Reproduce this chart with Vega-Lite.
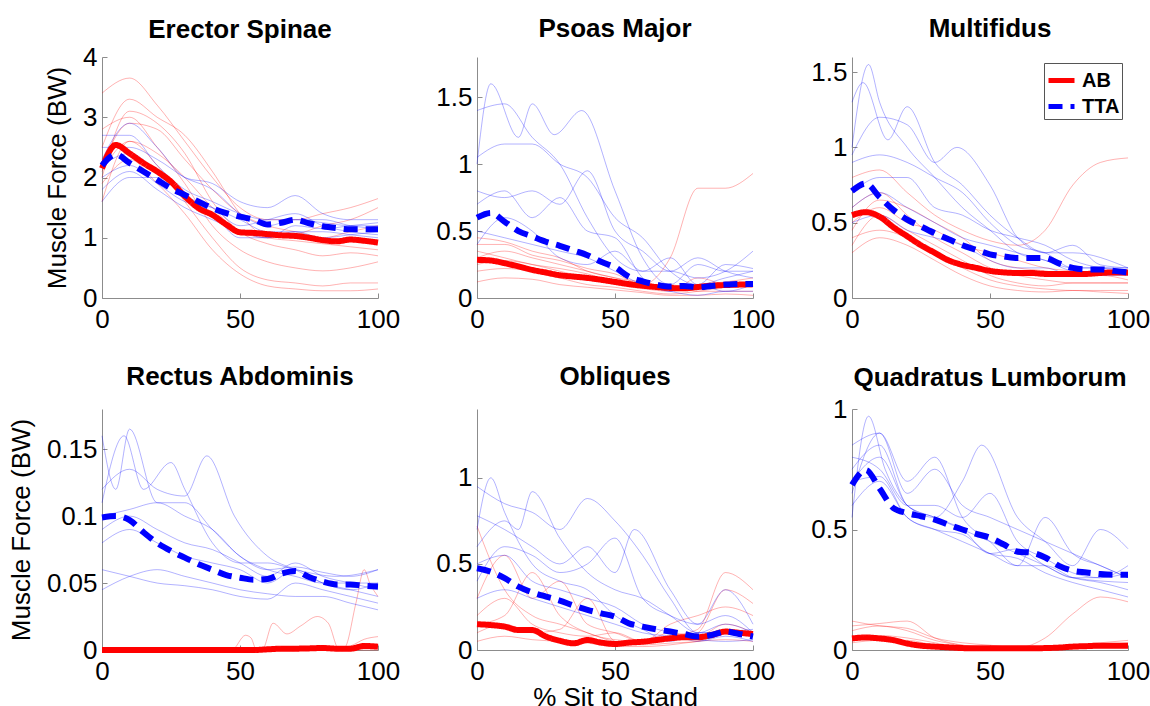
{
"$schema":"https://vega.github.io/schema/vega-lite/v6.json",
"padding":{"left":8,"top":16,"right":2,"bottom":2},
"datasets":{
"mean":[
{"m":"ES","g":"AB","x":0,"y":2.15},{"m":"ES","g":"AB","x":5,"y":2.54},{"m":"ES","g":"AB","x":10,"y":2.4},{"m":"ES","g":"AB","x":15,"y":2.24},{"m":"ES","g":"AB","x":20,"y":2.1},{"m":"ES","g":"AB","x":25,"y":1.93},{"m":"ES","g":"AB","x":30,"y":1.69},{"m":"ES","g":"AB","x":35,"y":1.49},{"m":"ES","g":"AB","x":40,"y":1.38},{"m":"ES","g":"AB","x":45,"y":1.22},{"m":"ES","g":"AB","x":50,"y":1.09},{"m":"ES","g":"AB","x":55,"y":1.08},{"m":"ES","g":"AB","x":60,"y":1.06},{"m":"ES","g":"AB","x":65,"y":1.04},{"m":"ES","g":"AB","x":70,"y":1.03},{"m":"ES","g":"AB","x":75,"y":1.0},{"m":"ES","g":"AB","x":80,"y":0.96},{"m":"ES","g":"AB","x":85,"y":0.94},{"m":"ES","g":"AB","x":90,"y":0.97},{"m":"ES","g":"AB","x":95,"y":0.95},{"m":"ES","g":"AB","x":100,"y":0.92},
{"m":"ES","g":"TTA","x":0,"y":2.2},{"m":"ES","g":"TTA","x":5,"y":2.38},{"m":"ES","g":"TTA","x":10,"y":2.24},{"m":"ES","g":"TTA","x":15,"y":2.1},{"m":"ES","g":"TTA","x":20,"y":1.96},{"m":"ES","g":"TTA","x":25,"y":1.82},{"m":"ES","g":"TTA","x":30,"y":1.71},{"m":"ES","g":"TTA","x":35,"y":1.6},{"m":"ES","g":"TTA","x":40,"y":1.49},{"m":"ES","g":"TTA","x":45,"y":1.41},{"m":"ES","g":"TTA","x":50,"y":1.35},{"m":"ES","g":"TTA","x":55,"y":1.3},{"m":"ES","g":"TTA","x":60,"y":1.22},{"m":"ES","g":"TTA","x":65,"y":1.25},{"m":"ES","g":"TTA","x":70,"y":1.3},{"m":"ES","g":"TTA","x":75,"y":1.24},{"m":"ES","g":"TTA","x":80,"y":1.19},{"m":"ES","g":"TTA","x":85,"y":1.16},{"m":"ES","g":"TTA","x":90,"y":1.14},{"m":"ES","g":"TTA","x":95,"y":1.14},{"m":"ES","g":"TTA","x":100,"y":1.14},
{"m":"PM","g":"AB","x":0,"y":0.285},{"m":"PM","g":"AB","x":5,"y":0.28},{"m":"PM","g":"AB","x":10,"y":0.26},{"m":"PM","g":"AB","x":15,"y":0.236},{"m":"PM","g":"AB","x":20,"y":0.21},{"m":"PM","g":"AB","x":25,"y":0.19},{"m":"PM","g":"AB","x":30,"y":0.17},{"m":"PM","g":"AB","x":35,"y":0.16},{"m":"PM","g":"AB","x":40,"y":0.15},{"m":"PM","g":"AB","x":45,"y":0.136},{"m":"PM","g":"AB","x":50,"y":0.12},{"m":"PM","g":"AB","x":55,"y":0.104},{"m":"PM","g":"AB","x":60,"y":0.092},{"m":"PM","g":"AB","x":65,"y":0.082},{"m":"PM","g":"AB","x":70,"y":0.075},{"m":"PM","g":"AB","x":75,"y":0.072},{"m":"PM","g":"AB","x":80,"y":0.082},{"m":"PM","g":"AB","x":85,"y":0.092},{"m":"PM","g":"AB","x":90,"y":0.097},{"m":"PM","g":"AB","x":95,"y":0.1},{"m":"PM","g":"AB","x":100,"y":0.104},
{"m":"PM","g":"TTA","x":0,"y":0.6},{"m":"PM","g":"TTA","x":5,"y":0.635},{"m":"PM","g":"TTA","x":10,"y":0.57},{"m":"PM","g":"TTA","x":15,"y":0.5},{"m":"PM","g":"TTA","x":20,"y":0.46},{"m":"PM","g":"TTA","x":25,"y":0.42},{"m":"PM","g":"TTA","x":30,"y":0.39},{"m":"PM","g":"TTA","x":35,"y":0.355},{"m":"PM","g":"TTA","x":40,"y":0.32},{"m":"PM","g":"TTA","x":45,"y":0.27},{"m":"PM","g":"TTA","x":50,"y":0.23},{"m":"PM","g":"TTA","x":55,"y":0.16},{"m":"PM","g":"TTA","x":60,"y":0.125},{"m":"PM","g":"TTA","x":65,"y":0.1},{"m":"PM","g":"TTA","x":70,"y":0.085},{"m":"PM","g":"TTA","x":75,"y":0.09},{"m":"PM","g":"TTA","x":80,"y":0.08},{"m":"PM","g":"TTA","x":85,"y":0.09},{"m":"PM","g":"TTA","x":90,"y":0.1},{"m":"PM","g":"TTA","x":95,"y":0.105},{"m":"PM","g":"TTA","x":100,"y":0.105},
{"m":"MF","g":"AB","x":0,"y":0.55},{"m":"MF","g":"AB","x":5,"y":0.57},{"m":"MF","g":"AB","x":10,"y":0.54},{"m":"MF","g":"AB","x":15,"y":0.47},{"m":"MF","g":"AB","x":20,"y":0.41},{"m":"MF","g":"AB","x":25,"y":0.35},{"m":"MF","g":"AB","x":30,"y":0.3},{"m":"MF","g":"AB","x":35,"y":0.25},{"m":"MF","g":"AB","x":40,"y":0.22},{"m":"MF","g":"AB","x":45,"y":0.2},{"m":"MF","g":"AB","x":50,"y":0.18},{"m":"MF","g":"AB","x":55,"y":0.17},{"m":"MF","g":"AB","x":60,"y":0.166},{"m":"MF","g":"AB","x":65,"y":0.166},{"m":"MF","g":"AB","x":70,"y":0.16},{"m":"MF","g":"AB","x":75,"y":0.16},{"m":"MF","g":"AB","x":80,"y":0.16},{"m":"MF","g":"AB","x":85,"y":0.16},{"m":"MF","g":"AB","x":90,"y":0.166},{"m":"MF","g":"AB","x":95,"y":0.17},{"m":"MF","g":"AB","x":100,"y":0.17},
{"m":"MF","g":"TTA","x":0,"y":0.71},{"m":"MF","g":"TTA","x":5,"y":0.76},{"m":"MF","g":"TTA","x":10,"y":0.67},{"m":"MF","g":"TTA","x":15,"y":0.585},{"m":"MF","g":"TTA","x":20,"y":0.52},{"m":"MF","g":"TTA","x":25,"y":0.475},{"m":"MF","g":"TTA","x":30,"y":0.43},{"m":"MF","g":"TTA","x":35,"y":0.39},{"m":"MF","g":"TTA","x":40,"y":0.35},{"m":"MF","g":"TTA","x":45,"y":0.32},{"m":"MF","g":"TTA","x":50,"y":0.29},{"m":"MF","g":"TTA","x":55,"y":0.276},{"m":"MF","g":"TTA","x":60,"y":0.265},{"m":"MF","g":"TTA","x":65,"y":0.265},{"m":"MF","g":"TTA","x":70,"y":0.265},{"m":"MF","g":"TTA","x":75,"y":0.23},{"m":"MF","g":"TTA","x":80,"y":0.2},{"m":"MF","g":"TTA","x":85,"y":0.19},{"m":"MF","g":"TTA","x":90,"y":0.19},{"m":"MF","g":"TTA","x":95,"y":0.18},{"m":"MF","g":"TTA","x":100,"y":0.17},
{"m":"RA","g":"AB","x":0,"y":0},{"m":"RA","g":"AB","x":5,"y":0},{"m":"RA","g":"AB","x":10,"y":0},{"m":"RA","g":"AB","x":15,"y":0},{"m":"RA","g":"AB","x":20,"y":0},{"m":"RA","g":"AB","x":25,"y":0},{"m":"RA","g":"AB","x":30,"y":0},{"m":"RA","g":"AB","x":35,"y":0},{"m":"RA","g":"AB","x":40,"y":0},{"m":"RA","g":"AB","x":45,"y":0},{"m":"RA","g":"AB","x":50,"y":0},{"m":"RA","g":"AB","x":55,"y":0},{"m":"RA","g":"AB","x":60,"y":0.0005},{"m":"RA","g":"AB","x":65,"y":0.001},{"m":"RA","g":"AB","x":70,"y":0.001},{"m":"RA","g":"AB","x":75,"y":0.0012},{"m":"RA","g":"AB","x":80,"y":0.0015},{"m":"RA","g":"AB","x":85,"y":0.001},{"m":"RA","g":"AB","x":90,"y":0.001},{"m":"RA","g":"AB","x":95,"y":0.003},{"m":"RA","g":"AB","x":100,"y":0.0025},
{"m":"RA","g":"TTA","x":0,"y":0.099},{"m":"RA","g":"TTA","x":5,"y":0.1},{"m":"RA","g":"TTA","x":10,"y":0.097},{"m":"RA","g":"TTA","x":15,"y":0.088},{"m":"RA","g":"TTA","x":20,"y":0.08},{"m":"RA","g":"TTA","x":25,"y":0.074},{"m":"RA","g":"TTA","x":30,"y":0.069},{"m":"RA","g":"TTA","x":35,"y":0.064},{"m":"RA","g":"TTA","x":40,"y":0.06},{"m":"RA","g":"TTA","x":45,"y":0.056},{"m":"RA","g":"TTA","x":50,"y":0.054},{"m":"RA","g":"TTA","x":55,"y":0.0525},{"m":"RA","g":"TTA","x":60,"y":0.053},{"m":"RA","g":"TTA","x":65,"y":0.057},{"m":"RA","g":"TTA","x":70,"y":0.059},{"m":"RA","g":"TTA","x":75,"y":0.0545},{"m":"RA","g":"TTA","x":80,"y":0.051},{"m":"RA","g":"TTA","x":85,"y":0.049},{"m":"RA","g":"TTA","x":90,"y":0.049},{"m":"RA","g":"TTA","x":95,"y":0.048},{"m":"RA","g":"TTA","x":100,"y":0.0475},
{"m":"OB","g":"AB","x":0,"y":0.15},{"m":"OB","g":"AB","x":5,"y":0.145},{"m":"OB","g":"AB","x":10,"y":0.136},{"m":"OB","g":"AB","x":15,"y":0.116},{"m":"OB","g":"AB","x":20,"y":0.116},{"m":"OB","g":"AB","x":25,"y":0.078},{"m":"OB","g":"AB","x":30,"y":0.054},{"m":"OB","g":"AB","x":35,"y":0.039},{"m":"OB","g":"AB","x":40,"y":0.058},{"m":"OB","g":"AB","x":45,"y":0.043},{"m":"OB","g":"AB","x":50,"y":0.035},{"m":"OB","g":"AB","x":55,"y":0.043},{"m":"OB","g":"AB","x":60,"y":0.048},{"m":"OB","g":"AB","x":65,"y":0.058},{"m":"OB","g":"AB","x":70,"y":0.068},{"m":"OB","g":"AB","x":75,"y":0.074},{"m":"OB","g":"AB","x":80,"y":0.074},{"m":"OB","g":"AB","x":85,"y":0.087},{"m":"OB","g":"AB","x":90,"y":0.107},{"m":"OB","g":"AB","x":95,"y":0.1},{"m":"OB","g":"AB","x":100,"y":0.093},
{"m":"OB","g":"TTA","x":0,"y":0.475},{"m":"OB","g":"TTA","x":5,"y":0.455},{"m":"OB","g":"TTA","x":10,"y":0.417},{"m":"OB","g":"TTA","x":15,"y":0.368},{"m":"OB","g":"TTA","x":20,"y":0.335},{"m":"OB","g":"TTA","x":25,"y":0.31},{"m":"OB","g":"TTA","x":30,"y":0.287},{"m":"OB","g":"TTA","x":35,"y":0.258},{"m":"OB","g":"TTA","x":40,"y":0.233},{"m":"OB","g":"TTA","x":45,"y":0.213},{"m":"OB","g":"TTA","x":50,"y":0.194},{"m":"OB","g":"TTA","x":55,"y":0.155},{"m":"OB","g":"TTA","x":60,"y":0.136},{"m":"OB","g":"TTA","x":65,"y":0.12},{"m":"OB","g":"TTA","x":70,"y":0.107},{"m":"OB","g":"TTA","x":75,"y":0.093},{"m":"OB","g":"TTA","x":80,"y":0.078},{"m":"OB","g":"TTA","x":85,"y":0.087},{"m":"OB","g":"TTA","x":90,"y":0.107},{"m":"OB","g":"TTA","x":95,"y":0.093},{"m":"OB","g":"TTA","x":100,"y":0.078},
{"m":"QL","g":"AB","x":0,"y":0.048},{"m":"QL","g":"AB","x":5,"y":0.052},{"m":"QL","g":"AB","x":10,"y":0.048},{"m":"QL","g":"AB","x":15,"y":0.041},{"m":"QL","g":"AB","x":20,"y":0.027},{"m":"QL","g":"AB","x":25,"y":0.018},{"m":"QL","g":"AB","x":30,"y":0.014},{"m":"QL","g":"AB","x":35,"y":0.011},{"m":"QL","g":"AB","x":40,"y":0.008},{"m":"QL","g":"AB","x":45,"y":0.007},{"m":"QL","g":"AB","x":50,"y":0.007},{"m":"QL","g":"AB","x":55,"y":0.007},{"m":"QL","g":"AB","x":60,"y":0.007},{"m":"QL","g":"AB","x":65,"y":0.007},{"m":"QL","g":"AB","x":70,"y":0.008},{"m":"QL","g":"AB","x":75,"y":0.01},{"m":"QL","g":"AB","x":80,"y":0.014},{"m":"QL","g":"AB","x":85,"y":0.016},{"m":"QL","g":"AB","x":90,"y":0.018},{"m":"QL","g":"AB","x":95,"y":0.018},{"m":"QL","g":"AB","x":100,"y":0.018},
{"m":"QL","g":"TTA","x":0,"y":0.685},{"m":"QL","g":"TTA","x":5,"y":0.747},{"m":"QL","g":"TTA","x":10,"y":0.67},{"m":"QL","g":"TTA","x":15,"y":0.589},{"m":"QL","g":"TTA","x":20,"y":0.568},{"m":"QL","g":"TTA","x":25,"y":0.555},{"m":"QL","g":"TTA","x":30,"y":0.541},{"m":"QL","g":"TTA","x":35,"y":0.52},{"m":"QL","g":"TTA","x":40,"y":0.5},{"m":"QL","g":"TTA","x":45,"y":0.482},{"m":"QL","g":"TTA","x":50,"y":0.466},{"m":"QL","g":"TTA","x":55,"y":0.438},{"m":"QL","g":"TTA","x":60,"y":0.408},{"m":"QL","g":"TTA","x":65,"y":0.404},{"m":"QL","g":"TTA","x":70,"y":0.384},{"m":"QL","g":"TTA","x":75,"y":0.349},{"m":"QL","g":"TTA","x":80,"y":0.329},{"m":"QL","g":"TTA","x":85,"y":0.322},{"m":"QL","g":"TTA","x":90,"y":0.315},{"m":"QL","g":"TTA","x":95,"y":0.312},{"m":"QL","g":"TTA","x":100,"y":0.312}
],
"subj":[
{"m":"ES","g":"AB","s":1,"x":0,"y":3.4},{"m":"ES","g":"AB","s":1,"x":10,"y":3.65},{"m":"ES","g":"AB","s":1,"x":20,"y":3.2},{"m":"ES","g":"AB","s":1,"x":30,"y":2.6},{"m":"ES","g":"AB","s":1,"x":40,"y":2.0},{"m":"ES","g":"AB","s":1,"x":50,"y":1.5},{"m":"ES","g":"AB","s":1,"x":60,"y":1.3},{"m":"ES","g":"AB","s":1,"x":70,"y":1.3},{"m":"ES","g":"AB","s":1,"x":80,"y":1.4},{"m":"ES","g":"AB","s":1,"x":90,"y":1.5},{"m":"ES","g":"AB","s":1,"x":100,"y":1.65},
{"m":"ES","g":"AB","s":2,"x":0,"y":2.0},{"m":"ES","g":"AB","s":2,"x":10,"y":3.1},{"m":"ES","g":"AB","s":2,"x":20,"y":2.9},{"m":"ES","g":"AB","s":2,"x":30,"y":2.4},{"m":"ES","g":"AB","s":2,"x":40,"y":1.6},{"m":"ES","g":"AB","s":2,"x":50,"y":1.1},{"m":"ES","g":"AB","s":2,"x":60,"y":0.9},{"m":"ES","g":"AB","s":2,"x":70,"y":0.8},{"m":"ES","g":"AB","s":2,"x":80,"y":0.7},{"m":"ES","g":"AB","s":2,"x":90,"y":0.75},{"m":"ES","g":"AB","s":2,"x":100,"y":0.7},
{"m":"ES","g":"AB","s":3,"x":0,"y":1.6},{"m":"ES","g":"AB","s":3,"x":10,"y":2.6},{"m":"ES","g":"AB","s":3,"x":20,"y":2.2},{"m":"ES","g":"AB","s":3,"x":30,"y":1.6},{"m":"ES","g":"AB","s":3,"x":40,"y":1.0},{"m":"ES","g":"AB","s":3,"x":50,"y":0.5},{"m":"ES","g":"AB","s":3,"x":60,"y":0.3},{"m":"ES","g":"AB","s":3,"x":70,"y":0.25},{"m":"ES","g":"AB","s":3,"x":80,"y":0.2},{"m":"ES","g":"AB","s":3,"x":90,"y":0.25},{"m":"ES","g":"AB","s":3,"x":100,"y":0.25},
{"m":"ES","g":"AB","s":4,"x":0,"y":2.2},{"m":"ES","g":"AB","s":4,"x":10,"y":2.9},{"m":"ES","g":"AB","s":4,"x":20,"y":2.8},{"m":"ES","g":"AB","s":4,"x":30,"y":2.3},{"m":"ES","g":"AB","s":4,"x":40,"y":1.8},{"m":"ES","g":"AB","s":4,"x":50,"y":1.4},{"m":"ES","g":"AB","s":4,"x":60,"y":1.2},{"m":"ES","g":"AB","s":4,"x":70,"y":1.1},{"m":"ES","g":"AB","s":4,"x":80,"y":1.0},{"m":"ES","g":"AB","s":4,"x":90,"y":1.1},{"m":"ES","g":"AB","s":4,"x":100,"y":1.2},
{"m":"ES","g":"AB","s":5,"x":0,"y":1.9},{"m":"ES","g":"AB","s":5,"x":10,"y":2.3},{"m":"ES","g":"AB","s":5,"x":20,"y":1.9},{"m":"ES","g":"AB","s":5,"x":30,"y":1.4},{"m":"ES","g":"AB","s":5,"x":40,"y":0.8},{"m":"ES","g":"AB","s":5,"x":50,"y":0.4},{"m":"ES","g":"AB","s":5,"x":60,"y":0.2},{"m":"ES","g":"AB","s":5,"x":70,"y":0.15},{"m":"ES","g":"AB","s":5,"x":80,"y":0.12},{"m":"ES","g":"AB","s":5,"x":90,"y":0.12},{"m":"ES","g":"AB","s":5,"x":100,"y":0.15},
{"m":"ES","g":"AB","s":6,"x":0,"y":2.5},{"m":"ES","g":"AB","s":6,"x":10,"y":3.3},{"m":"ES","g":"AB","s":6,"x":20,"y":3.0},{"m":"ES","g":"AB","s":6,"x":30,"y":2.7},{"m":"ES","g":"AB","s":6,"x":40,"y":2.1},{"m":"ES","g":"AB","s":6,"x":50,"y":1.4},{"m":"ES","g":"AB","s":6,"x":60,"y":1.0},{"m":"ES","g":"AB","s":6,"x":70,"y":0.95},{"m":"ES","g":"AB","s":6,"x":80,"y":0.9},{"m":"ES","g":"AB","s":6,"x":90,"y":0.85},{"m":"ES","g":"AB","s":6,"x":100,"y":0.8},
{"m":"ES","g":"AB","s":7,"x":0,"y":2.1},{"m":"ES","g":"AB","s":7,"x":10,"y":2.6},{"m":"ES","g":"AB","s":7,"x":20,"y":2.4},{"m":"ES","g":"AB","s":7,"x":30,"y":2.0},{"m":"ES","g":"AB","s":7,"x":40,"y":1.5},{"m":"ES","g":"AB","s":7,"x":50,"y":1.1},{"m":"ES","g":"AB","s":7,"x":60,"y":1.0},{"m":"ES","g":"AB","s":7,"x":70,"y":1.05},{"m":"ES","g":"AB","s":7,"x":80,"y":1.2},{"m":"ES","g":"AB","s":7,"x":90,"y":1.3},{"m":"ES","g":"AB","s":7,"x":100,"y":1.5},
{"m":"ES","g":"AB","s":8,"x":0,"y":2.8},{"m":"ES","g":"AB","s":8,"x":10,"y":3.0},{"m":"ES","g":"AB","s":8,"x":20,"y":2.5},{"m":"ES","g":"AB","s":8,"x":30,"y":1.9},{"m":"ES","g":"AB","s":8,"x":40,"y":1.2},{"m":"ES","g":"AB","s":8,"x":50,"y":0.8},{"m":"ES","g":"AB","s":8,"x":60,"y":0.6},{"m":"ES","g":"AB","s":8,"x":70,"y":0.5},{"m":"ES","g":"AB","s":8,"x":80,"y":0.45},{"m":"ES","g":"AB","s":8,"x":90,"y":0.5},{"m":"ES","g":"AB","s":8,"x":100,"y":0.6},
{"m":"ES","g":"TTA","s":1,"x":0,"y":2.7},{"m":"ES","g":"TTA","s":1,"x":10,"y":2.7},{"m":"ES","g":"TTA","s":1,"x":20,"y":2.2},{"m":"ES","g":"TTA","s":1,"x":30,"y":1.8},{"m":"ES","g":"TTA","s":1,"x":40,"y":1.6},{"m":"ES","g":"TTA","s":1,"x":50,"y":1.4},{"m":"ES","g":"TTA","s":1,"x":60,"y":1.3},{"m":"ES","g":"TTA","s":1,"x":70,"y":1.3},{"m":"ES","g":"TTA","s":1,"x":80,"y":1.25},{"m":"ES","g":"TTA","s":1,"x":90,"y":1.2},{"m":"ES","g":"TTA","s":1,"x":100,"y":1.2},
{"m":"ES","g":"TTA","s":2,"x":0,"y":2.0},{"m":"ES","g":"TTA","s":2,"x":10,"y":2.2},{"m":"ES","g":"TTA","s":2,"x":20,"y":1.9},{"m":"ES","g":"TTA","s":2,"x":30,"y":1.6},{"m":"ES","g":"TTA","s":2,"x":40,"y":1.5},{"m":"ES","g":"TTA","s":2,"x":50,"y":1.3},{"m":"ES","g":"TTA","s":2,"x":60,"y":1.1},{"m":"ES","g":"TTA","s":2,"x":70,"y":1.1},{"m":"ES","g":"TTA","s":2,"x":80,"y":1.0},{"m":"ES","g":"TTA","s":2,"x":90,"y":1.05},{"m":"ES","g":"TTA","s":2,"x":100,"y":1.1},
{"m":"ES","g":"TTA","s":3,"x":0,"y":2.3},{"m":"ES","g":"TTA","s":3,"x":10,"y":2.9},{"m":"ES","g":"TTA","s":3,"x":20,"y":2.5},{"m":"ES","g":"TTA","s":3,"x":30,"y":2.0},{"m":"ES","g":"TTA","s":3,"x":40,"y":1.9},{"m":"ES","g":"TTA","s":3,"x":50,"y":1.6},{"m":"ES","g":"TTA","s":3,"x":60,"y":1.5},{"m":"ES","g":"TTA","s":3,"x":70,"y":1.7},{"m":"ES","g":"TTA","s":3,"x":80,"y":1.4},{"m":"ES","g":"TTA","s":3,"x":90,"y":1.3},{"m":"ES","g":"TTA","s":3,"x":100,"y":1.3},
{"m":"ES","g":"TTA","s":4,"x":0,"y":1.8},{"m":"ES","g":"TTA","s":4,"x":10,"y":2.1},{"m":"ES","g":"TTA","s":4,"x":20,"y":1.8},{"m":"ES","g":"TTA","s":4,"x":30,"y":1.5},{"m":"ES","g":"TTA","s":4,"x":40,"y":1.3},{"m":"ES","g":"TTA","s":4,"x":50,"y":1.1},{"m":"ES","g":"TTA","s":4,"x":60,"y":1.0},{"m":"ES","g":"TTA","s":4,"x":70,"y":1.1},{"m":"ES","g":"TTA","s":4,"x":80,"y":1.1},{"m":"ES","g":"TTA","s":4,"x":90,"y":1.05},{"m":"ES","g":"TTA","s":4,"x":100,"y":1.0},
{"m":"ES","g":"TTA","s":5,"x":0,"y":2.5},{"m":"ES","g":"TTA","s":5,"x":10,"y":2.5},{"m":"ES","g":"TTA","s":5,"x":20,"y":2.3},{"m":"ES","g":"TTA","s":5,"x":30,"y":2.0},{"m":"ES","g":"TTA","s":5,"x":40,"y":1.8},{"m":"ES","g":"TTA","s":5,"x":50,"y":1.4},{"m":"ES","g":"TTA","s":5,"x":60,"y":1.2},{"m":"ES","g":"TTA","s":5,"x":70,"y":1.3},{"m":"ES","g":"TTA","s":5,"x":80,"y":1.3},{"m":"ES","g":"TTA","s":5,"x":90,"y":1.2},{"m":"ES","g":"TTA","s":5,"x":100,"y":1.15},
{"m":"ES","g":"TTA","s":6,"x":0,"y":2.2},{"m":"ES","g":"TTA","s":6,"x":10,"y":2.4},{"m":"ES","g":"TTA","s":6,"x":20,"y":2.1},{"m":"ES","g":"TTA","s":6,"x":30,"y":1.7},{"m":"ES","g":"TTA","s":6,"x":40,"y":1.5},{"m":"ES","g":"TTA","s":6,"x":50,"y":1.2},{"m":"ES","g":"TTA","s":6,"x":60,"y":1.3},{"m":"ES","g":"TTA","s":6,"x":70,"y":1.4},{"m":"ES","g":"TTA","s":6,"x":80,"y":1.2},{"m":"ES","g":"TTA","s":6,"x":90,"y":1.1},{"m":"ES","g":"TTA","s":6,"x":100,"y":1.05},
{"m":"ES","g":"TTA","s":7,"x":0,"y":1.6},{"m":"ES","g":"TTA","s":7,"x":10,"y":2.0},{"m":"ES","g":"TTA","s":7,"x":20,"y":2.0},{"m":"ES","g":"TTA","s":7,"x":30,"y":1.7},{"m":"ES","g":"TTA","s":7,"x":40,"y":1.4},{"m":"ES","g":"TTA","s":7,"x":50,"y":1.0},{"m":"ES","g":"TTA","s":7,"x":60,"y":1.0},{"m":"ES","g":"TTA","s":7,"x":70,"y":1.2},{"m":"ES","g":"TTA","s":7,"x":80,"y":1.15},{"m":"ES","g":"TTA","s":7,"x":90,"y":1.2},{"m":"ES","g":"TTA","s":7,"x":100,"y":1.25},
{"m":"PM","g":"AB","s":1,"x":0,"y":0.45},{"m":"PM","g":"AB","s":1,"x":10,"y":0.42},{"m":"PM","g":"AB","s":1,"x":20,"y":0.35},{"m":"PM","g":"AB","s":1,"x":30,"y":0.3},{"m":"PM","g":"AB","s":1,"x":40,"y":0.2},{"m":"PM","g":"AB","s":1,"x":50,"y":0.15},{"m":"PM","g":"AB","s":1,"x":60,"y":0.1},{"m":"PM","g":"AB","s":1,"x":70,"y":0.3},{"m":"PM","g":"AB","s":1,"x":80,"y":0.82},{"m":"PM","g":"AB","s":1,"x":90,"y":0.82},{"m":"PM","g":"AB","s":1,"x":100,"y":0.93},
{"m":"PM","g":"AB","s":2,"x":0,"y":0.3},{"m":"PM","g":"AB","s":2,"x":10,"y":0.35},{"m":"PM","g":"AB","s":2,"x":20,"y":0.3},{"m":"PM","g":"AB","s":2,"x":30,"y":0.25},{"m":"PM","g":"AB","s":2,"x":40,"y":0.2},{"m":"PM","g":"AB","s":2,"x":50,"y":0.15},{"m":"PM","g":"AB","s":2,"x":60,"y":0.12},{"m":"PM","g":"AB","s":2,"x":70,"y":0.08},{"m":"PM","g":"AB","s":2,"x":80,"y":0.1},{"m":"PM","g":"AB","s":2,"x":90,"y":0.12},{"m":"PM","g":"AB","s":2,"x":100,"y":0.15},
{"m":"PM","g":"AB","s":3,"x":0,"y":0.2},{"m":"PM","g":"AB","s":3,"x":10,"y":0.22},{"m":"PM","g":"AB","s":3,"x":20,"y":0.2},{"m":"PM","g":"AB","s":3,"x":30,"y":0.15},{"m":"PM","g":"AB","s":3,"x":40,"y":0.1},{"m":"PM","g":"AB","s":3,"x":50,"y":0.08},{"m":"PM","g":"AB","s":3,"x":60,"y":0.05},{"m":"PM","g":"AB","s":3,"x":70,"y":0.03},{"m":"PM","g":"AB","s":3,"x":80,"y":0.05},{"m":"PM","g":"AB","s":3,"x":90,"y":0.08},{"m":"PM","g":"AB","s":3,"x":100,"y":0.1},
{"m":"PM","g":"AB","s":4,"x":0,"y":0.4},{"m":"PM","g":"AB","s":4,"x":10,"y":0.4},{"m":"PM","g":"AB","s":4,"x":20,"y":0.32},{"m":"PM","g":"AB","s":4,"x":30,"y":0.28},{"m":"PM","g":"AB","s":4,"x":40,"y":0.22},{"m":"PM","g":"AB","s":4,"x":50,"y":0.18},{"m":"PM","g":"AB","s":4,"x":60,"y":0.1},{"m":"PM","g":"AB","s":4,"x":70,"y":0.1},{"m":"PM","g":"AB","s":4,"x":80,"y":0.05},{"m":"PM","g":"AB","s":4,"x":90,"y":0.05},{"m":"PM","g":"AB","s":4,"x":100,"y":0.05},
{"m":"PM","g":"AB","s":5,"x":0,"y":0.12},{"m":"PM","g":"AB","s":5,"x":10,"y":0.15},{"m":"PM","g":"AB","s":5,"x":20,"y":0.14},{"m":"PM","g":"AB","s":5,"x":30,"y":0.1},{"m":"PM","g":"AB","s":5,"x":40,"y":0.08},{"m":"PM","g":"AB","s":5,"x":50,"y":0.06},{"m":"PM","g":"AB","s":5,"x":60,"y":0.04},{"m":"PM","g":"AB","s":5,"x":70,"y":0.02},{"m":"PM","g":"AB","s":5,"x":80,"y":0.02},{"m":"PM","g":"AB","s":5,"x":90,"y":0.03},{"m":"PM","g":"AB","s":5,"x":100,"y":0.02},
{"m":"PM","g":"AB","s":6,"x":0,"y":0.35},{"m":"PM","g":"AB","s":6,"x":10,"y":0.3},{"m":"PM","g":"AB","s":6,"x":20,"y":0.25},{"m":"PM","g":"AB","s":6,"x":30,"y":0.22},{"m":"PM","g":"AB","s":6,"x":40,"y":0.18},{"m":"PM","g":"AB","s":6,"x":50,"y":0.12},{"m":"PM","g":"AB","s":6,"x":60,"y":0.08},{"m":"PM","g":"AB","s":6,"x":70,"y":0.06},{"m":"PM","g":"AB","s":6,"x":80,"y":0.08},{"m":"PM","g":"AB","s":6,"x":90,"y":0.1},{"m":"PM","g":"AB","s":6,"x":100,"y":0.12},
{"m":"PM","g":"AB","s":7,"x":0,"y":0.25},{"m":"PM","g":"AB","s":7,"x":10,"y":0.28},{"m":"PM","g":"AB","s":7,"x":20,"y":0.25},{"m":"PM","g":"AB","s":7,"x":30,"y":0.2},{"m":"PM","g":"AB","s":7,"x":40,"y":0.15},{"m":"PM","g":"AB","s":7,"x":50,"y":0.1},{"m":"PM","g":"AB","s":7,"x":60,"y":0.07},{"m":"PM","g":"AB","s":7,"x":70,"y":0.05},{"m":"PM","g":"AB","s":7,"x":80,"y":0.15},{"m":"PM","g":"AB","s":7,"x":90,"y":0.1},{"m":"PM","g":"AB","s":7,"x":100,"y":0.08},
{"m":"PM","g":"TTA","s":1,"x":0,"y":1.4},{"m":"PM","g":"TTA","s":1,"x":10,"y":1.45},{"m":"PM","g":"TTA","s":1,"x":20,"y":1.2},{"m":"PM","g":"TTA","s":1,"x":30,"y":1.0},{"m":"PM","g":"TTA","s":1,"x":40,"y":0.6},{"m":"PM","g":"TTA","s":1,"x":50,"y":0.3},{"m":"PM","g":"TTA","s":1,"x":60,"y":0.2},{"m":"PM","g":"TTA","s":1,"x":70,"y":0.2},{"m":"PM","g":"TTA","s":1,"x":80,"y":0.15},{"m":"PM","g":"TTA","s":1,"x":90,"y":0.2},{"m":"PM","g":"TTA","s":1,"x":100,"y":0.35},
{"m":"PM","g":"TTA","s":2,"x":0,"y":1.0},{"m":"PM","g":"TTA","s":2,"x":5,"y":1.6},{"m":"PM","g":"TTA","s":2,"x":15,"y":1.2},{"m":"PM","g":"TTA","s":2,"x":20,"y":1.45},{"m":"PM","g":"TTA","s":2,"x":28,"y":1.22},{"m":"PM","g":"TTA","s":2,"x":38,"y":1.4},{"m":"PM","g":"TTA","s":2,"x":50,"y":0.8},{"m":"PM","g":"TTA","s":2,"x":60,"y":0.3},{"m":"PM","g":"TTA","s":2,"x":70,"y":0.1},{"m":"PM","g":"TTA","s":2,"x":80,"y":0.25},{"m":"PM","g":"TTA","s":2,"x":90,"y":0.2},{"m":"PM","g":"TTA","s":2,"x":100,"y":0.2},
{"m":"PM","g":"TTA","s":3,"x":0,"y":1.05},{"m":"PM","g":"TTA","s":3,"x":10,"y":1.15},{"m":"PM","g":"TTA","s":3,"x":20,"y":1.15},{"m":"PM","g":"TTA","s":3,"x":30,"y":1.0},{"m":"PM","g":"TTA","s":3,"x":40,"y":0.9},{"m":"PM","g":"TTA","s":3,"x":50,"y":0.6},{"m":"PM","g":"TTA","s":3,"x":60,"y":0.45},{"m":"PM","g":"TTA","s":3,"x":70,"y":0.2},{"m":"PM","g":"TTA","s":3,"x":80,"y":0.1},{"m":"PM","g":"TTA","s":3,"x":90,"y":0.15},{"m":"PM","g":"TTA","s":3,"x":100,"y":0.2},
{"m":"PM","g":"TTA","s":4,"x":0,"y":0.8},{"m":"PM","g":"TTA","s":4,"x":10,"y":0.75},{"m":"PM","g":"TTA","s":4,"x":20,"y":0.8},{"m":"PM","g":"TTA","s":4,"x":30,"y":0.7},{"m":"PM","g":"TTA","s":4,"x":40,"y":0.95},{"m":"PM","g":"TTA","s":4,"x":50,"y":0.5},{"m":"PM","g":"TTA","s":4,"x":60,"y":0.35},{"m":"PM","g":"TTA","s":4,"x":70,"y":0.2},{"m":"PM","g":"TTA","s":4,"x":80,"y":0.3},{"m":"PM","g":"TTA","s":4,"x":90,"y":0.2},{"m":"PM","g":"TTA","s":4,"x":100,"y":0.15},
{"m":"PM","g":"TTA","s":5,"x":0,"y":0.7},{"m":"PM","g":"TTA","s":5,"x":10,"y":0.8},{"m":"PM","g":"TTA","s":5,"x":20,"y":0.6},{"m":"PM","g":"TTA","s":5,"x":30,"y":0.75},{"m":"PM","g":"TTA","s":5,"x":40,"y":0.5},{"m":"PM","g":"TTA","s":5,"x":50,"y":0.45},{"m":"PM","g":"TTA","s":5,"x":60,"y":0.15},{"m":"PM","g":"TTA","s":5,"x":70,"y":0.05},{"m":"PM","g":"TTA","s":5,"x":80,"y":0.1},{"m":"PM","g":"TTA","s":5,"x":90,"y":0.05},{"m":"PM","g":"TTA","s":5,"x":100,"y":0.1},
{"m":"PM","g":"TTA","s":6,"x":0,"y":0.5},{"m":"PM","g":"TTA","s":6,"x":10,"y":0.45},{"m":"PM","g":"TTA","s":6,"x":20,"y":0.4},{"m":"PM","g":"TTA","s":6,"x":30,"y":0.35},{"m":"PM","g":"TTA","s":6,"x":40,"y":0.3},{"m":"PM","g":"TTA","s":6,"x":50,"y":0.2},{"m":"PM","g":"TTA","s":6,"x":60,"y":0.1},{"m":"PM","g":"TTA","s":6,"x":70,"y":0.05},{"m":"PM","g":"TTA","s":6,"x":80,"y":0.02},{"m":"PM","g":"TTA","s":6,"x":90,"y":0.05},{"m":"PM","g":"TTA","s":6,"x":100,"y":0.05},
{"m":"PM","g":"TTA","s":7,"x":0,"y":0.4},{"m":"PM","g":"TTA","s":7,"x":10,"y":0.6},{"m":"PM","g":"TTA","s":7,"x":20,"y":0.5},{"m":"PM","g":"TTA","s":7,"x":30,"y":0.3},{"m":"PM","g":"TTA","s":7,"x":40,"y":0.25},{"m":"PM","g":"TTA","s":7,"x":50,"y":0.35},{"m":"PM","g":"TTA","s":7,"x":60,"y":0.2},{"m":"PM","g":"TTA","s":7,"x":70,"y":0.3},{"m":"PM","g":"TTA","s":7,"x":80,"y":0.1},{"m":"PM","g":"TTA","s":7,"x":90,"y":0.25},{"m":"PM","g":"TTA","s":7,"x":100,"y":0.22},
{"m":"MF","g":"AB","s":1,"x":0,"y":0.8},{"m":"MF","g":"AB","s":1,"x":10,"y":0.85},{"m":"MF","g":"AB","s":1,"x":20,"y":0.7},{"m":"MF","g":"AB","s":1,"x":30,"y":0.55},{"m":"MF","g":"AB","s":1,"x":40,"y":0.45},{"m":"MF","g":"AB","s":1,"x":50,"y":0.38},{"m":"MF","g":"AB","s":1,"x":60,"y":0.35},{"m":"MF","g":"AB","s":1,"x":70,"y":0.45},{"m":"MF","g":"AB","s":1,"x":80,"y":0.75},{"m":"MF","g":"AB","s":1,"x":90,"y":0.9},{"m":"MF","g":"AB","s":1,"x":100,"y":0.93},
{"m":"MF","g":"AB","s":2,"x":0,"y":0.6},{"m":"MF","g":"AB","s":2,"x":10,"y":0.7},{"m":"MF","g":"AB","s":2,"x":20,"y":0.55},{"m":"MF","g":"AB","s":2,"x":30,"y":0.4},{"m":"MF","g":"AB","s":2,"x":40,"y":0.3},{"m":"MF","g":"AB","s":2,"x":50,"y":0.2},{"m":"MF","g":"AB","s":2,"x":60,"y":0.15},{"m":"MF","g":"AB","s":2,"x":70,"y":0.12},{"m":"MF","g":"AB","s":2,"x":80,"y":0.1},{"m":"MF","g":"AB","s":2,"x":90,"y":0.1},{"m":"MF","g":"AB","s":2,"x":100,"y":0.1},
{"m":"MF","g":"AB","s":3,"x":0,"y":0.4},{"m":"MF","g":"AB","s":3,"x":10,"y":0.45},{"m":"MF","g":"AB","s":3,"x":20,"y":0.4},{"m":"MF","g":"AB","s":3,"x":30,"y":0.3},{"m":"MF","g":"AB","s":3,"x":40,"y":0.2},{"m":"MF","g":"AB","s":3,"x":50,"y":0.12},{"m":"MF","g":"AB","s":3,"x":60,"y":0.08},{"m":"MF","g":"AB","s":3,"x":70,"y":0.06},{"m":"MF","g":"AB","s":3,"x":80,"y":0.05},{"m":"MF","g":"AB","s":3,"x":90,"y":0.05},{"m":"MF","g":"AB","s":3,"x":100,"y":0.05},
{"m":"MF","g":"AB","s":4,"x":0,"y":0.5},{"m":"MF","g":"AB","s":4,"x":10,"y":0.6},{"m":"MF","g":"AB","s":4,"x":20,"y":0.5},{"m":"MF","g":"AB","s":4,"x":30,"y":0.45},{"m":"MF","g":"AB","s":4,"x":40,"y":0.35},{"m":"MF","g":"AB","s":4,"x":50,"y":0.3},{"m":"MF","g":"AB","s":4,"x":60,"y":0.25},{"m":"MF","g":"AB","s":4,"x":70,"y":0.2},{"m":"MF","g":"AB","s":4,"x":80,"y":0.18},{"m":"MF","g":"AB","s":4,"x":90,"y":0.17},{"m":"MF","g":"AB","s":4,"x":100,"y":0.15},
{"m":"MF","g":"AB","s":5,"x":0,"y":0.35},{"m":"MF","g":"AB","s":5,"x":10,"y":0.55},{"m":"MF","g":"AB","s":5,"x":20,"y":0.45},{"m":"MF","g":"AB","s":5,"x":30,"y":0.35},{"m":"MF","g":"AB","s":5,"x":40,"y":0.25},{"m":"MF","g":"AB","s":5,"x":50,"y":0.15},{"m":"MF","g":"AB","s":5,"x":60,"y":0.1},{"m":"MF","g":"AB","s":5,"x":70,"y":0.08},{"m":"MF","g":"AB","s":5,"x":80,"y":0.1},{"m":"MF","g":"AB","s":5,"x":90,"y":0.1},{"m":"MF","g":"AB","s":5,"x":100,"y":0.1},
{"m":"MF","g":"AB","s":6,"x":0,"y":0.45},{"m":"MF","g":"AB","s":6,"x":10,"y":0.65},{"m":"MF","g":"AB","s":6,"x":20,"y":0.6},{"m":"MF","g":"AB","s":6,"x":30,"y":0.5},{"m":"MF","g":"AB","s":6,"x":40,"y":0.4},{"m":"MF","g":"AB","s":6,"x":50,"y":0.25},{"m":"MF","g":"AB","s":6,"x":60,"y":0.2},{"m":"MF","g":"AB","s":6,"x":70,"y":0.18},{"m":"MF","g":"AB","s":6,"x":80,"y":0.15},{"m":"MF","g":"AB","s":6,"x":90,"y":0.15},{"m":"MF","g":"AB","s":6,"x":100,"y":0.12},
{"m":"MF","g":"AB","s":7,"x":0,"y":0.3},{"m":"MF","g":"AB","s":7,"x":10,"y":0.4},{"m":"MF","g":"AB","s":7,"x":20,"y":0.35},{"m":"MF","g":"AB","s":7,"x":30,"y":0.25},{"m":"MF","g":"AB","s":7,"x":40,"y":0.15},{"m":"MF","g":"AB","s":7,"x":50,"y":0.08},{"m":"MF","g":"AB","s":7,"x":60,"y":0.05},{"m":"MF","g":"AB","s":7,"x":70,"y":0.04},{"m":"MF","g":"AB","s":7,"x":80,"y":0.05},{"m":"MF","g":"AB","s":7,"x":90,"y":0.04},{"m":"MF","g":"AB","s":7,"x":100,"y":0.03},
{"m":"MF","g":"TTA","s":1,"x":0,"y":1.0},{"m":"MF","g":"TTA","s":1,"x":6,"y":1.55},{"m":"MF","g":"TTA","s":1,"x":10,"y":1.3},{"m":"MF","g":"TTA","s":1,"x":20,"y":1.0},{"m":"MF","g":"TTA","s":1,"x":30,"y":0.8},{"m":"MF","g":"TTA","s":1,"x":40,"y":0.6},{"m":"MF","g":"TTA","s":1,"x":50,"y":0.45},{"m":"MF","g":"TTA","s":1,"x":60,"y":0.3},{"m":"MF","g":"TTA","s":1,"x":70,"y":0.25},{"m":"MF","g":"TTA","s":1,"x":80,"y":0.2},{"m":"MF","g":"TTA","s":1,"x":100,"y":0.2},
{"m":"MF","g":"TTA","s":2,"x":0,"y":1.3},{"m":"MF","g":"TTA","s":2,"x":4,"y":1.43},{"m":"MF","g":"TTA","s":2,"x":13,"y":1.05},{"m":"MF","g":"TTA","s":2,"x":20,"y":1.27},{"m":"MF","g":"TTA","s":2,"x":30,"y":0.9},{"m":"MF","g":"TTA","s":2,"x":40,"y":0.75},{"m":"MF","g":"TTA","s":2,"x":50,"y":0.55},{"m":"MF","g":"TTA","s":2,"x":60,"y":0.4},{"m":"MF","g":"TTA","s":2,"x":70,"y":0.3},{"m":"MF","g":"TTA","s":2,"x":80,"y":0.3},{"m":"MF","g":"TTA","s":2,"x":100,"y":0.2},
{"m":"MF","g":"TTA","s":3,"x":0,"y":0.95},{"m":"MF","g":"TTA","s":3,"x":10,"y":1.2},{"m":"MF","g":"TTA","s":3,"x":20,"y":1.15},{"m":"MF","g":"TTA","s":3,"x":30,"y":0.9},{"m":"MF","g":"TTA","s":3,"x":38,"y":1.0},{"m":"MF","g":"TTA","s":3,"x":50,"y":0.75},{"m":"MF","g":"TTA","s":3,"x":60,"y":0.4},{"m":"MF","g":"TTA","s":3,"x":70,"y":0.3},{"m":"MF","g":"TTA","s":3,"x":80,"y":0.35},{"m":"MF","g":"TTA","s":3,"x":90,"y":0.22},{"m":"MF","g":"TTA","s":3,"x":100,"y":0.2},
{"m":"MF","g":"TTA","s":4,"x":0,"y":0.9},{"m":"MF","g":"TTA","s":4,"x":10,"y":0.95},{"m":"MF","g":"TTA","s":4,"x":20,"y":0.9},{"m":"MF","g":"TTA","s":4,"x":30,"y":0.8},{"m":"MF","g":"TTA","s":4,"x":40,"y":0.7},{"m":"MF","g":"TTA","s":4,"x":50,"y":0.5},{"m":"MF","g":"TTA","s":4,"x":60,"y":0.35},{"m":"MF","g":"TTA","s":4,"x":70,"y":0.3},{"m":"MF","g":"TTA","s":4,"x":80,"y":0.2},{"m":"MF","g":"TTA","s":4,"x":90,"y":0.2},{"m":"MF","g":"TTA","s":4,"x":100,"y":0.18},
{"m":"MF","g":"TTA","s":5,"x":0,"y":0.6},{"m":"MF","g":"TTA","s":5,"x":10,"y":0.7},{"m":"MF","g":"TTA","s":5,"x":20,"y":0.6},{"m":"MF","g":"TTA","s":5,"x":30,"y":0.5},{"m":"MF","g":"TTA","s":5,"x":40,"y":0.4},{"m":"MF","g":"TTA","s":5,"x":50,"y":0.35},{"m":"MF","g":"TTA","s":5,"x":60,"y":0.3},{"m":"MF","g":"TTA","s":5,"x":70,"y":0.25},{"m":"MF","g":"TTA","s":5,"x":80,"y":0.18},{"m":"MF","g":"TTA","s":5,"x":90,"y":0.17},{"m":"MF","g":"TTA","s":5,"x":100,"y":0.16},
{"m":"MF","g":"TTA","s":6,"x":0,"y":0.5},{"m":"MF","g":"TTA","s":6,"x":10,"y":0.55},{"m":"MF","g":"TTA","s":6,"x":20,"y":0.45},{"m":"MF","g":"TTA","s":6,"x":30,"y":0.4},{"m":"MF","g":"TTA","s":6,"x":40,"y":0.35},{"m":"MF","g":"TTA","s":6,"x":50,"y":0.25},{"m":"MF","g":"TTA","s":6,"x":60,"y":0.2},{"m":"MF","g":"TTA","s":6,"x":70,"y":0.2},{"m":"MF","g":"TTA","s":6,"x":80,"y":0.15},{"m":"MF","g":"TTA","s":6,"x":90,"y":0.15},{"m":"MF","g":"TTA","s":6,"x":100,"y":0.15},
{"m":"MF","g":"TTA","s":7,"x":0,"y":0.7},{"m":"MF","g":"TTA","s":7,"x":10,"y":0.8},{"m":"MF","g":"TTA","s":7,"x":20,"y":0.8},{"m":"MF","g":"TTA","s":7,"x":30,"y":0.6},{"m":"MF","g":"TTA","s":7,"x":40,"y":0.55},{"m":"MF","g":"TTA","s":7,"x":50,"y":0.45},{"m":"MF","g":"TTA","s":7,"x":60,"y":0.4},{"m":"MF","g":"TTA","s":7,"x":70,"y":0.35},{"m":"MF","g":"TTA","s":7,"x":80,"y":0.25},{"m":"MF","g":"TTA","s":7,"x":90,"y":0.2},{"m":"MF","g":"TTA","s":7,"x":100,"y":0.18},
{"m":"RA","g":"AB","s":1,"x":0,"y":0},{"m":"RA","g":"AB","s":1,"x":47,"y":0},{"m":"RA","g":"AB","s":1,"x":52,"y":0.011},{"m":"RA","g":"AB","s":1,"x":54,"y":0.009},{"m":"RA","g":"AB","s":1,"x":56,"y":0},{"m":"RA","g":"AB","s":1,"x":58,"y":0},{"m":"RA","g":"AB","s":1,"x":62,"y":0.02},{"m":"RA","g":"AB","s":1,"x":67,"y":0.012},{"m":"RA","g":"AB","s":1,"x":72,"y":0.018},{"m":"RA","g":"AB","s":1,"x":78,"y":0.025},{"m":"RA","g":"AB","s":1,"x":82,"y":0.02},{"m":"RA","g":"AB","s":1,"x":86,"y":0},{"m":"RA","g":"AB","s":1,"x":100,"y":0},
{"m":"RA","g":"AB","s":2,"x":0,"y":0},{"m":"RA","g":"AB","s":2,"x":85,"y":0},{"m":"RA","g":"AB","s":2,"x":88,"y":0.002},{"m":"RA","g":"AB","s":2,"x":92,"y":0.035},{"m":"RA","g":"AB","s":2,"x":95,"y":0.06},{"m":"RA","g":"AB","s":2,"x":97,"y":0.05},{"m":"RA","g":"AB","s":2,"x":100,"y":0.04},
{"m":"RA","g":"AB","s":3,"x":0,"y":0},{"m":"RA","g":"AB","s":3,"x":80,"y":0},{"m":"RA","g":"AB","s":3,"x":90,"y":0.003},{"m":"RA","g":"AB","s":3,"x":95,"y":0.008},{"m":"RA","g":"AB","s":3,"x":100,"y":0.01},
{"m":"RA","g":"TTA","s":1,"x":0,"y":0.16},{"m":"RA","g":"TTA","s":1,"x":5,"y":0.12},{"m":"RA","g":"TTA","s":1,"x":10,"y":0.165},{"m":"RA","g":"TTA","s":1,"x":20,"y":0.11},{"m":"RA","g":"TTA","s":1,"x":30,"y":0.11},{"m":"RA","g":"TTA","s":1,"x":40,"y":0.09},{"m":"RA","g":"TTA","s":1,"x":50,"y":0.07},{"m":"RA","g":"TTA","s":1,"x":60,"y":0.06},{"m":"RA","g":"TTA","s":1,"x":70,"y":0.055},{"m":"RA","g":"TTA","s":1,"x":80,"y":0.05},{"m":"RA","g":"TTA","s":1,"x":100,"y":0.05},
{"m":"RA","g":"TTA","s":2,"x":0,"y":0.11},{"m":"RA","g":"TTA","s":2,"x":8,"y":0.16},{"m":"RA","g":"TTA","s":2,"x":15,"y":0.12},{"m":"RA","g":"TTA","s":2,"x":25,"y":0.14},{"m":"RA","g":"TTA","s":2,"x":30,"y":0.12},{"m":"RA","g":"TTA","s":2,"x":40,"y":0.08},{"m":"RA","g":"TTA","s":2,"x":50,"y":0.065},{"m":"RA","g":"TTA","s":2,"x":60,"y":0.065},{"m":"RA","g":"TTA","s":2,"x":70,"y":0.06},{"m":"RA","g":"TTA","s":2,"x":85,"y":0.055},{"m":"RA","g":"TTA","s":2,"x":100,"y":0.06},
{"m":"RA","g":"TTA","s":3,"x":0,"y":0.12},{"m":"RA","g":"TTA","s":3,"x":10,"y":0.135},{"m":"RA","g":"TTA","s":3,"x":20,"y":0.12},{"m":"RA","g":"TTA","s":3,"x":30,"y":0.115},{"m":"RA","g":"TTA","s":3,"x":38,"y":0.145},{"m":"RA","g":"TTA","s":3,"x":48,"y":0.1},{"m":"RA","g":"TTA","s":3,"x":60,"y":0.07},{"m":"RA","g":"TTA","s":3,"x":70,"y":0.06},{"m":"RA","g":"TTA","s":3,"x":80,"y":0.05},{"m":"RA","g":"TTA","s":3,"x":90,"y":0.045},{"m":"RA","g":"TTA","s":3,"x":100,"y":0.05},
{"m":"RA","g":"TTA","s":4,"x":0,"y":0.09},{"m":"RA","g":"TTA","s":4,"x":10,"y":0.1},{"m":"RA","g":"TTA","s":4,"x":20,"y":0.09},{"m":"RA","g":"TTA","s":4,"x":30,"y":0.08},{"m":"RA","g":"TTA","s":4,"x":40,"y":0.075},{"m":"RA","g":"TTA","s":4,"x":50,"y":0.065},{"m":"RA","g":"TTA","s":4,"x":60,"y":0.055},{"m":"RA","g":"TTA","s":4,"x":70,"y":0.065},{"m":"RA","g":"TTA","s":4,"x":80,"y":0.055},{"m":"RA","g":"TTA","s":4,"x":90,"y":0.05},{"m":"RA","g":"TTA","s":4,"x":100,"y":0.045},
{"m":"RA","g":"TTA","s":5,"x":0,"y":0.06},{"m":"RA","g":"TTA","s":5,"x":10,"y":0.055},{"m":"RA","g":"TTA","s":5,"x":20,"y":0.05},{"m":"RA","g":"TTA","s":5,"x":30,"y":0.048},{"m":"RA","g":"TTA","s":5,"x":40,"y":0.045},{"m":"RA","g":"TTA","s":5,"x":50,"y":0.04},{"m":"RA","g":"TTA","s":5,"x":60,"y":0.038},{"m":"RA","g":"TTA","s":5,"x":70,"y":0.05},{"m":"RA","g":"TTA","s":5,"x":80,"y":0.045},{"m":"RA","g":"TTA","s":5,"x":90,"y":0.04},{"m":"RA","g":"TTA","s":5,"x":100,"y":0.035},
{"m":"RA","g":"TTA","s":6,"x":0,"y":0.08},{"m":"RA","g":"TTA","s":6,"x":10,"y":0.09},{"m":"RA","g":"TTA","s":6,"x":20,"y":0.08},{"m":"RA","g":"TTA","s":6,"x":30,"y":0.07},{"m":"RA","g":"TTA","s":6,"x":40,"y":0.065},{"m":"RA","g":"TTA","s":6,"x":50,"y":0.06},{"m":"RA","g":"TTA","s":6,"x":60,"y":0.05},{"m":"RA","g":"TTA","s":6,"x":70,"y":0.06},{"m":"RA","g":"TTA","s":6,"x":80,"y":0.05},{"m":"RA","g":"TTA","s":6,"x":90,"y":0.045},{"m":"RA","g":"TTA","s":6,"x":100,"y":0.04},
{"m":"RA","g":"TTA","s":7,"x":0,"y":0.045},{"m":"RA","g":"TTA","s":7,"x":10,"y":0.055},{"m":"RA","g":"TTA","s":7,"x":20,"y":0.06},{"m":"RA","g":"TTA","s":7,"x":30,"y":0.055},{"m":"RA","g":"TTA","s":7,"x":40,"y":0.05},{"m":"RA","g":"TTA","s":7,"x":50,"y":0.045},{"m":"RA","g":"TTA","s":7,"x":60,"y":0.042},{"m":"RA","g":"TTA","s":7,"x":70,"y":0.04},{"m":"RA","g":"TTA","s":7,"x":80,"y":0.04},{"m":"RA","g":"TTA","s":7,"x":90,"y":0.035},{"m":"RA","g":"TTA","s":7,"x":100,"y":0.03},
{"m":"RA","g":"TTA","s":8,"x":0,"y":0.1},{"m":"RA","g":"TTA","s":8,"x":10,"y":0.105},{"m":"RA","g":"TTA","s":8,"x":20,"y":0.11},{"m":"RA","g":"TTA","s":8,"x":30,"y":0.1},{"m":"RA","g":"TTA","s":8,"x":40,"y":0.09},{"m":"RA","g":"TTA","s":8,"x":50,"y":0.07},{"m":"RA","g":"TTA","s":8,"x":60,"y":0.06},{"m":"RA","g":"TTA","s":8,"x":70,"y":0.062},{"m":"RA","g":"TTA","s":8,"x":80,"y":0.058},{"m":"RA","g":"TTA","s":8,"x":90,"y":0.055},{"m":"RA","g":"TTA","s":8,"x":100,"y":0.06},
{"m":"OB","g":"AB","s":1,"x":0,"y":0.72},{"m":"OB","g":"AB","s":1,"x":10,"y":0.35},{"m":"OB","g":"AB","s":1,"x":20,"y":0.2},{"m":"OB","g":"AB","s":1,"x":30,"y":0.15},{"m":"OB","g":"AB","s":1,"x":40,"y":0.1},{"m":"OB","g":"AB","s":1,"x":50,"y":0.05},{"m":"OB","g":"AB","s":1,"x":60,"y":0.04},{"m":"OB","g":"AB","s":1,"x":70,"y":0.06},{"m":"OB","g":"AB","s":1,"x":80,"y":0.1},{"m":"OB","g":"AB","s":1,"x":90,"y":0.35},{"m":"OB","g":"AB","s":1,"x":100,"y":0.27},
{"m":"OB","g":"AB","s":2,"x":0,"y":0.3},{"m":"OB","g":"AB","s":2,"x":10,"y":0.55},{"m":"OB","g":"AB","s":2,"x":20,"y":0.3},{"m":"OB","g":"AB","s":2,"x":30,"y":0.4},{"m":"OB","g":"AB","s":2,"x":40,"y":0.15},{"m":"OB","g":"AB","s":2,"x":50,"y":0.1},{"m":"OB","g":"AB","s":2,"x":60,"y":0.05},{"m":"OB","g":"AB","s":2,"x":70,"y":0.08},{"m":"OB","g":"AB","s":2,"x":80,"y":0.12},{"m":"OB","g":"AB","s":2,"x":90,"y":0.45},{"m":"OB","g":"AB","s":2,"x":100,"y":0.35},
{"m":"OB","g":"AB","s":3,"x":0,"y":0.15},{"m":"OB","g":"AB","s":3,"x":10,"y":0.2},{"m":"OB","g":"AB","s":3,"x":20,"y":0.45},{"m":"OB","g":"AB","s":3,"x":30,"y":0.2},{"m":"OB","g":"AB","s":3,"x":40,"y":0.1},{"m":"OB","g":"AB","s":3,"x":50,"y":0.06},{"m":"OB","g":"AB","s":3,"x":60,"y":0.05},{"m":"OB","g":"AB","s":3,"x":70,"y":0.1},{"m":"OB","g":"AB","s":3,"x":80,"y":0.08},{"m":"OB","g":"AB","s":3,"x":90,"y":0.15},{"m":"OB","g":"AB","s":3,"x":100,"y":0.1},
{"m":"OB","g":"AB","s":4,"x":0,"y":0.1},{"m":"OB","g":"AB","s":4,"x":10,"y":0.15},{"m":"OB","g":"AB","s":4,"x":20,"y":0.1},{"m":"OB","g":"AB","s":4,"x":30,"y":0.12},{"m":"OB","g":"AB","s":4,"x":40,"y":0.3},{"m":"OB","g":"AB","s":4,"x":50,"y":0.05},{"m":"OB","g":"AB","s":4,"x":60,"y":0.03},{"m":"OB","g":"AB","s":4,"x":70,"y":0.04},{"m":"OB","g":"AB","s":4,"x":80,"y":0.05},{"m":"OB","g":"AB","s":4,"x":90,"y":0.1},{"m":"OB","g":"AB","s":4,"x":100,"y":0.08},
{"m":"OB","g":"AB","s":5,"x":0,"y":0.05},{"m":"OB","g":"AB","s":5,"x":10,"y":0.08},{"m":"OB","g":"AB","s":5,"x":20,"y":0.06},{"m":"OB","g":"AB","s":5,"x":30,"y":0.05},{"m":"OB","g":"AB","s":5,"x":40,"y":0.04},{"m":"OB","g":"AB","s":5,"x":50,"y":0.02},{"m":"OB","g":"AB","s":5,"x":60,"y":0.02},{"m":"OB","g":"AB","s":5,"x":70,"y":0.03},{"m":"OB","g":"AB","s":5,"x":80,"y":0.05},{"m":"OB","g":"AB","s":5,"x":90,"y":0.06},{"m":"OB","g":"AB","s":5,"x":100,"y":0.05},
{"m":"OB","g":"AB","s":6,"x":0,"y":0.2},{"m":"OB","g":"AB","s":6,"x":10,"y":0.3},{"m":"OB","g":"AB","s":6,"x":20,"y":0.15},{"m":"OB","g":"AB","s":6,"x":30,"y":0.1},{"m":"OB","g":"AB","s":6,"x":40,"y":0.08},{"m":"OB","g":"AB","s":6,"x":50,"y":0.1},{"m":"OB","g":"AB","s":6,"x":60,"y":0.05},{"m":"OB","g":"AB","s":6,"x":70,"y":0.15},{"m":"OB","g":"AB","s":6,"x":80,"y":0.2},{"m":"OB","g":"AB","s":6,"x":90,"y":0.25},{"m":"OB","g":"AB","s":6,"x":100,"y":0.2},
{"m":"OB","g":"TTA","s":1,"x":0,"y":0.7},{"m":"OB","g":"TTA","s":1,"x":5,"y":1.0},{"m":"OB","g":"TTA","s":1,"x":10,"y":0.8},{"m":"OB","g":"TTA","s":1,"x":20,"y":0.5},{"m":"OB","g":"TTA","s":1,"x":30,"y":0.4},{"m":"OB","g":"TTA","s":1,"x":40,"y":0.35},{"m":"OB","g":"TTA","s":1,"x":50,"y":0.2},{"m":"OB","g":"TTA","s":1,"x":60,"y":0.12},{"m":"OB","g":"TTA","s":1,"x":70,"y":0.05},{"m":"OB","g":"TTA","s":1,"x":80,"y":0.1},{"m":"OB","g":"TTA","s":1,"x":100,"y":0.08},
{"m":"OB","g":"TTA","s":2,"x":0,"y":0.95},{"m":"OB","g":"TTA","s":2,"x":10,"y":0.85},{"m":"OB","g":"TTA","s":2,"x":20,"y":0.8},{"m":"OB","g":"TTA","s":2,"x":30,"y":0.7},{"m":"OB","g":"TTA","s":2,"x":40,"y":0.88},{"m":"OB","g":"TTA","s":2,"x":50,"y":0.75},{"m":"OB","g":"TTA","s":2,"x":60,"y":0.55},{"m":"OB","g":"TTA","s":2,"x":70,"y":0.3},{"m":"OB","g":"TTA","s":2,"x":80,"y":0.1},{"m":"OB","g":"TTA","s":2,"x":90,"y":0.15},{"m":"OB","g":"TTA","s":2,"x":100,"y":0.1},
{"m":"OB","g":"TTA","s":3,"x":0,"y":0.6},{"m":"OB","g":"TTA","s":3,"x":10,"y":0.75},{"m":"OB","g":"TTA","s":3,"x":15,"y":0.7},{"m":"OB","g":"TTA","s":3,"x":20,"y":0.92},{"m":"OB","g":"TTA","s":3,"x":30,"y":0.65},{"m":"OB","g":"TTA","s":3,"x":40,"y":0.45},{"m":"OB","g":"TTA","s":3,"x":50,"y":0.35},{"m":"OB","g":"TTA","s":3,"x":60,"y":0.3},{"m":"OB","g":"TTA","s":3,"x":70,"y":0.2},{"m":"OB","g":"TTA","s":3,"x":80,"y":0.1},{"m":"OB","g":"TTA","s":3,"x":100,"y":0.12},
{"m":"OB","g":"TTA","s":4,"x":0,"y":0.78},{"m":"OB","g":"TTA","s":4,"x":10,"y":0.7},{"m":"OB","g":"TTA","s":4,"x":20,"y":0.6},{"m":"OB","g":"TTA","s":4,"x":30,"y":0.5},{"m":"OB","g":"TTA","s":4,"x":40,"y":0.6},{"m":"OB","g":"TTA","s":4,"x":50,"y":0.45},{"m":"OB","g":"TTA","s":4,"x":57,"y":0.7},{"m":"OB","g":"TTA","s":4,"x":70,"y":0.35},{"m":"OB","g":"TTA","s":4,"x":80,"y":0.15},{"m":"OB","g":"TTA","s":4,"x":90,"y":0.2},{"m":"OB","g":"TTA","s":4,"x":100,"y":0.1},
{"m":"OB","g":"TTA","s":5,"x":0,"y":0.5},{"m":"OB","g":"TTA","s":5,"x":10,"y":0.55},{"m":"OB","g":"TTA","s":5,"x":20,"y":0.4},{"m":"OB","g":"TTA","s":5,"x":30,"y":0.35},{"m":"OB","g":"TTA","s":5,"x":40,"y":0.3},{"m":"OB","g":"TTA","s":5,"x":50,"y":0.25},{"m":"OB","g":"TTA","s":5,"x":60,"y":0.15},{"m":"OB","g":"TTA","s":5,"x":70,"y":0.1},{"m":"OB","g":"TTA","s":5,"x":80,"y":0.05},{"m":"OB","g":"TTA","s":5,"x":90,"y":0.08},{"m":"OB","g":"TTA","s":5,"x":100,"y":0.05},
{"m":"OB","g":"TTA","s":6,"x":0,"y":0.3},{"m":"OB","g":"TTA","s":6,"x":10,"y":0.35},{"m":"OB","g":"TTA","s":6,"x":20,"y":0.3},{"m":"OB","g":"TTA","s":6,"x":30,"y":0.25},{"m":"OB","g":"TTA","s":6,"x":40,"y":0.2},{"m":"OB","g":"TTA","s":6,"x":50,"y":0.15},{"m":"OB","g":"TTA","s":6,"x":60,"y":0.1},{"m":"OB","g":"TTA","s":6,"x":70,"y":0.08},{"m":"OB","g":"TTA","s":6,"x":80,"y":0.06},{"m":"OB","g":"TTA","s":6,"x":90,"y":0.05},{"m":"OB","g":"TTA","s":6,"x":100,"y":0.06},
{"m":"OB","g":"TTA","s":7,"x":0,"y":0.4},{"m":"OB","g":"TTA","s":7,"x":10,"y":0.6},{"m":"OB","g":"TTA","s":7,"x":20,"y":0.55},{"m":"OB","g":"TTA","s":7,"x":30,"y":0.45},{"m":"OB","g":"TTA","s":7,"x":40,"y":0.5},{"m":"OB","g":"TTA","s":7,"x":50,"y":0.65},{"m":"OB","g":"TTA","s":7,"x":60,"y":0.3},{"m":"OB","g":"TTA","s":7,"x":70,"y":0.2},{"m":"OB","g":"TTA","s":7,"x":80,"y":0.15},{"m":"OB","g":"TTA","s":7,"x":90,"y":0.35},{"m":"OB","g":"TTA","s":7,"x":100,"y":0.15},
{"m":"QL","g":"AB","s":1,"x":0,"y":0.1},{"m":"QL","g":"AB","s":1,"x":10,"y":0.11},{"m":"QL","g":"AB","s":1,"x":20,"y":0.12},{"m":"QL","g":"AB","s":1,"x":30,"y":0.05},{"m":"QL","g":"AB","s":1,"x":40,"y":0.02},{"m":"QL","g":"AB","s":1,"x":50,"y":0.01},{"m":"QL","g":"AB","s":1,"x":60,"y":0.01},{"m":"QL","g":"AB","s":1,"x":70,"y":0.05},{"m":"QL","g":"AB","s":1,"x":80,"y":0.15},{"m":"QL","g":"AB","s":1,"x":90,"y":0.22},{"m":"QL","g":"AB","s":1,"x":100,"y":0.2},
{"m":"QL","g":"AB","s":2,"x":0,"y":0.08},{"m":"QL","g":"AB","s":2,"x":10,"y":0.1},{"m":"QL","g":"AB","s":2,"x":20,"y":0.08},{"m":"QL","g":"AB","s":2,"x":30,"y":0.04},{"m":"QL","g":"AB","s":2,"x":40,"y":0.02},{"m":"QL","g":"AB","s":2,"x":50,"y":0.01},{"m":"QL","g":"AB","s":2,"x":60,"y":0.005},{"m":"QL","g":"AB","s":2,"x":70,"y":0.005},{"m":"QL","g":"AB","s":2,"x":80,"y":0.01},{"m":"QL","g":"AB","s":2,"x":90,"y":0.02},{"m":"QL","g":"AB","s":2,"x":100,"y":0.03},
{"m":"QL","g":"AB","s":3,"x":0,"y":0.05},{"m":"QL","g":"AB","s":3,"x":10,"y":0.06},{"m":"QL","g":"AB","s":3,"x":20,"y":0.05},{"m":"QL","g":"AB","s":3,"x":30,"y":0.03},{"m":"QL","g":"AB","s":3,"x":40,"y":0.01},{"m":"QL","g":"AB","s":3,"x":50,"y":0.005},{"m":"QL","g":"AB","s":3,"x":60,"y":0.005},{"m":"QL","g":"AB","s":3,"x":70,"y":0.005},{"m":"QL","g":"AB","s":3,"x":80,"y":0.01},{"m":"QL","g":"AB","s":3,"x":90,"y":0.01},{"m":"QL","g":"AB","s":3,"x":100,"y":0.02},
{"m":"QL","g":"AB","s":4,"x":0,"y":0.03},{"m":"QL","g":"AB","s":4,"x":10,"y":0.04},{"m":"QL","g":"AB","s":4,"x":20,"y":0.04},{"m":"QL","g":"AB","s":4,"x":30,"y":0.02},{"m":"QL","g":"AB","s":4,"x":40,"y":0.01},{"m":"QL","g":"AB","s":4,"x":50,"y":0.005},{"m":"QL","g":"AB","s":4,"x":60,"y":0},{"m":"QL","g":"AB","s":4,"x":70,"y":0},{"m":"QL","g":"AB","s":4,"x":80,"y":0.005},{"m":"QL","g":"AB","s":4,"x":90,"y":0.01},{"m":"QL","g":"AB","s":4,"x":100,"y":0.01},
{"m":"QL","g":"AB","s":5,"x":0,"y":0.12},{"m":"QL","g":"AB","s":5,"x":10,"y":0.1},{"m":"QL","g":"AB","s":5,"x":20,"y":0.09},{"m":"QL","g":"AB","s":5,"x":30,"y":0.05},{"m":"QL","g":"AB","s":5,"x":40,"y":0.03},{"m":"QL","g":"AB","s":5,"x":50,"y":0.02},{"m":"QL","g":"AB","s":5,"x":60,"y":0.01},{"m":"QL","g":"AB","s":5,"x":70,"y":0.01},{"m":"QL","g":"AB","s":5,"x":80,"y":0.02},{"m":"QL","g":"AB","s":5,"x":90,"y":0.03},{"m":"QL","g":"AB","s":5,"x":100,"y":0.04},
{"m":"QL","g":"TTA","s":1,"x":0,"y":0.55},{"m":"QL","g":"TTA","s":1,"x":6,"y":0.97},{"m":"QL","g":"TTA","s":1,"x":12,"y":0.75},{"m":"QL","g":"TTA","s":1,"x":20,"y":0.6},{"m":"QL","g":"TTA","s":1,"x":30,"y":0.55},{"m":"QL","g":"TTA","s":1,"x":40,"y":0.5},{"m":"QL","g":"TTA","s":1,"x":50,"y":0.4},{"m":"QL","g":"TTA","s":1,"x":60,"y":0.42},{"m":"QL","g":"TTA","s":1,"x":70,"y":0.35},{"m":"QL","g":"TTA","s":1,"x":80,"y":0.3},{"m":"QL","g":"TTA","s":1,"x":100,"y":0.28},
{"m":"QL","g":"TTA","s":2,"x":0,"y":0.85},{"m":"QL","g":"TTA","s":2,"x":10,"y":0.9},{"m":"QL","g":"TTA","s":2,"x":20,"y":0.65},{"m":"QL","g":"TTA","s":2,"x":30,"y":0.75},{"m":"QL","g":"TTA","s":2,"x":40,"y":0.6},{"m":"QL","g":"TTA","s":2,"x":50,"y":0.55},{"m":"QL","g":"TTA","s":2,"x":60,"y":0.5},{"m":"QL","g":"TTA","s":2,"x":70,"y":0.45},{"m":"QL","g":"TTA","s":2,"x":80,"y":0.4},{"m":"QL","g":"TTA","s":2,"x":90,"y":0.35},{"m":"QL","g":"TTA","s":2,"x":100,"y":0.3},
{"m":"QL","g":"TTA","s":3,"x":0,"y":0.75},{"m":"QL","g":"TTA","s":3,"x":10,"y":0.85},{"m":"QL","g":"TTA","s":3,"x":20,"y":0.6},{"m":"QL","g":"TTA","s":3,"x":30,"y":0.55},{"m":"QL","g":"TTA","s":3,"x":40,"y":0.7},{"m":"QL","g":"TTA","s":3,"x":47,"y":0.85},{"m":"QL","g":"TTA","s":3,"x":60,"y":0.55},{"m":"QL","g":"TTA","s":3,"x":70,"y":0.45},{"m":"QL","g":"TTA","s":3,"x":80,"y":0.35},{"m":"QL","g":"TTA","s":3,"x":90,"y":0.5},{"m":"QL","g":"TTA","s":3,"x":100,"y":0.42},
{"m":"QL","g":"TTA","s":4,"x":0,"y":0.7},{"m":"QL","g":"TTA","s":4,"x":10,"y":0.8},{"m":"QL","g":"TTA","s":4,"x":20,"y":0.6},{"m":"QL","g":"TTA","s":4,"x":30,"y":0.55},{"m":"QL","g":"TTA","s":4,"x":40,"y":0.5},{"m":"QL","g":"TTA","s":4,"x":50,"y":0.45},{"m":"QL","g":"TTA","s":4,"x":60,"y":0.4},{"m":"QL","g":"TTA","s":4,"x":70,"y":0.35},{"m":"QL","g":"TTA","s":4,"x":80,"y":0.3},{"m":"QL","g":"TTA","s":4,"x":90,"y":0.3},{"m":"QL","g":"TTA","s":4,"x":100,"y":0.32},
{"m":"QL","g":"TTA","s":5,"x":0,"y":0.6},{"m":"QL","g":"TTA","s":5,"x":10,"y":0.7},{"m":"QL","g":"TTA","s":5,"x":20,"y":0.55},{"m":"QL","g":"TTA","s":5,"x":30,"y":0.5},{"m":"QL","g":"TTA","s":5,"x":40,"y":0.45},{"m":"QL","g":"TTA","s":5,"x":50,"y":0.4},{"m":"QL","g":"TTA","s":5,"x":60,"y":0.35},{"m":"QL","g":"TTA","s":5,"x":70,"y":0.35},{"m":"QL","g":"TTA","s":5,"x":80,"y":0.3},{"m":"QL","g":"TTA","s":5,"x":90,"y":0.28},{"m":"QL","g":"TTA","s":5,"x":100,"y":0.25},
{"m":"QL","g":"TTA","s":6,"x":0,"y":0.8},{"m":"QL","g":"TTA","s":6,"x":10,"y":0.75},{"m":"QL","g":"TTA","s":6,"x":20,"y":0.6},{"m":"QL","g":"TTA","s":6,"x":30,"y":0.6},{"m":"QL","g":"TTA","s":6,"x":40,"y":0.55},{"m":"QL","g":"TTA","s":6,"x":50,"y":0.65},{"m":"QL","g":"TTA","s":6,"x":60,"y":0.45},{"m":"QL","g":"TTA","s":6,"x":70,"y":0.38},{"m":"QL","g":"TTA","s":6,"x":80,"y":0.32},{"m":"QL","g":"TTA","s":6,"x":90,"y":0.3},{"m":"QL","g":"TTA","s":6,"x":100,"y":0.35},
{"m":"QL","g":"TTA","s":7,"x":0,"y":0.65},{"m":"QL","g":"TTA","s":7,"x":10,"y":0.9},{"m":"QL","g":"TTA","s":7,"x":20,"y":0.7},{"m":"QL","g":"TTA","s":7,"x":30,"y":0.8},{"m":"QL","g":"TTA","s":7,"x":40,"y":0.55},{"m":"QL","g":"TTA","s":7,"x":50,"y":0.45},{"m":"QL","g":"TTA","s":7,"x":60,"y":0.35},{"m":"QL","g":"TTA","s":7,"x":70,"y":0.55},{"m":"QL","g":"TTA","s":7,"x":80,"y":0.4},{"m":"QL","g":"TTA","s":7,"x":90,"y":0.35},{"m":"QL","g":"TTA","s":7,"x":100,"y":0.3},
{"m":"QL","g":"TTA","s":8,"x":0,"y":0.7},{"m":"QL","g":"TTA","s":8,"x":10,"y":0.72},{"m":"QL","g":"TTA","s":8,"x":20,"y":0.55},{"m":"QL","g":"TTA","s":8,"x":30,"y":0.5},{"m":"QL","g":"TTA","s":8,"x":40,"y":0.48},{"m":"QL","g":"TTA","s":8,"x":50,"y":0.4},{"m":"QL","g":"TTA","s":8,"x":60,"y":0.38},{"m":"QL","g":"TTA","s":8,"x":70,"y":0.32},{"m":"QL","g":"TTA","s":8,"x":80,"y":0.28},{"m":"QL","g":"TTA","s":8,"x":90,"y":0.25},{"m":"QL","g":"TTA","s":8,"x":100,"y":0.22}
]
},
"columns":3,
"spacing":{"row":111,"column":99},
"bounds":"flush",
"resolve":{"scale":{"color":"independent","strokeDash":"independent"},"legend":{"color":"independent","strokeDash":"independent"}},
"concat":[
{"width":276,"height":241,"title":{"text":"Erector Spinae","offset":1},
 "encoding":{"x":{"field":"x","type":"quantitative","scale":{"domain":[0,100]},"axis":{"values":[0,50,100],"title":null}},
  "y":{"field":"y","type":"quantitative","scale":{"domain":[0,4]},"axis":{"values":[0,1,2,3,4],"title":"Muscle Force (BW)"}}},
 "layer":[
  {"data":{"name":"subj"},"transform":[{"filter":"datum.m==='ES' && datum.g==='AB'"}],"mark":{"type":"line","stroke":"#ff0000","strokeWidth":1,"strokeOpacity":0.3,"interpolate":"monotone"},"encoding":{"detail":{"field":"s","type":"nominal"}}},
  {"data":{"name":"subj"},"transform":[{"filter":"datum.m==='ES' && datum.g==='TTA'"}],"mark":{"type":"line","stroke":"#0000ff","strokeWidth":1,"strokeOpacity":0.3,"interpolate":"monotone"},"encoding":{"detail":{"field":"s","type":"nominal"}}},
  {"data":{"name":"mean"},"transform":[{"filter":"datum.m==='ES'"}],"mark":{"type":"line","strokeWidth":6,"interpolate":"monotone"},"encoding":{"color":{"field":"g","type":"nominal","scale":{"domain":["AB","TTA"],"range":["#ff0000","#0000ff"]},"legend":null},"strokeDash":{"field":"g","type":"nominal","scale":{"domain":["AB","TTA"],"range":[[1,0],[14,8]]},"legend":null}}}
 ]},
{"width":276,"height":241,"title":{"text":"Psoas Major","offset":15},
 "encoding":{"x":{"field":"x","type":"quantitative","scale":{"domain":[0,100]},"axis":{"values":[0,50,100],"title":null}},
  "y":{"field":"y","type":"quantitative","scale":{"domain":[0,1.8]},"axis":{"values":[0,0.5,1,1.5],"title":null}}},
 "layer":[
  {"data":{"name":"subj"},"transform":[{"filter":"datum.m==='PM' && datum.g==='AB'"}],"mark":{"type":"line","stroke":"#ff0000","strokeWidth":1,"strokeOpacity":0.3,"interpolate":"monotone"},"encoding":{"detail":{"field":"s","type":"nominal"}}},
  {"data":{"name":"subj"},"transform":[{"filter":"datum.m==='PM' && datum.g==='TTA'"}],"mark":{"type":"line","stroke":"#0000ff","strokeWidth":1,"strokeOpacity":0.3,"interpolate":"monotone"},"encoding":{"detail":{"field":"s","type":"nominal"}}},
  {"data":{"name":"mean"},"transform":[{"filter":"datum.m==='PM'"}],"mark":{"type":"line","strokeWidth":6,"interpolate":"monotone"},"encoding":{"color":{"field":"g","type":"nominal","scale":{"domain":["AB","TTA"],"range":["#ff0000","#0000ff"]},"legend":null},"strokeDash":{"field":"g","type":"nominal","scale":{"domain":["AB","TTA"],"range":[[1,0],[14,8]]},"legend":null}}}
 ]},
{"width":276,"height":241,"title":{"text":"Multifidus","offset":15},
 "encoding":{"x":{"field":"x","type":"quantitative","scale":{"domain":[0,100]},"axis":{"values":[0,50,100],"title":null}},
  "y":{"field":"y","type":"quantitative","scale":{"domain":[0,1.6]},"axis":{"values":[0,0.5,1,1.5],"title":null}}},
 "layer":[
  {"data":{"name":"subj"},"transform":[{"filter":"datum.m==='MF' && datum.g==='AB'"}],"mark":{"type":"line","stroke":"#ff0000","strokeWidth":1,"strokeOpacity":0.3,"interpolate":"monotone"},"encoding":{"detail":{"field":"s","type":"nominal"}}},
  {"data":{"name":"subj"},"transform":[{"filter":"datum.m==='MF' && datum.g==='TTA'"}],"mark":{"type":"line","stroke":"#0000ff","strokeWidth":1,"strokeOpacity":0.3,"interpolate":"monotone"},"encoding":{"detail":{"field":"s","type":"nominal"}}},
  {"data":{"name":"mean"},"transform":[{"filter":"datum.m==='MF'"}],"mark":{"type":"line","strokeWidth":6,"interpolate":"monotone"},"encoding":{
   "color":{"field":"g","type":"nominal","scale":{"domain":["AB","TTA"],"range":["#ff0000","#0000ff"]},"legend":{"title":null,"orient":"top-right","offset":6,"labelFont":"Liberation Sans","labelFontSize":20,"labelFontWeight":"bold","labelColor":"#000000","strokeColor":"#555555","fillColor":"#ffffff","padding":2,"symbolType":"stroke","symbolSize":676,"symbolStrokeWidth":5,"rowPadding":0,"labelOffset":5}},
   "strokeDash":{"field":"g","type":"nominal","scale":{"domain":["AB","TTA"],"range":[[1,0],[14,8]]},"legend":{"title":null,"orient":"top-right","offset":6,"labelFont":"Liberation Sans","labelFontSize":20,"labelFontWeight":"bold","labelColor":"#000000","strokeColor":"#555555","fillColor":"#ffffff","padding":2,"symbolType":"stroke","symbolSize":676,"symbolStrokeWidth":5,"rowPadding":0,"labelOffset":5}}}}
 ]},
{"width":276,"height":241,"title":{"text":"Rectus Abdominis","offset":19},
 "encoding":{"x":{"field":"x","type":"quantitative","scale":{"domain":[0,100]},"axis":{"values":[0,50,100],"title":null}},
  "y":{"field":"y","type":"quantitative","scale":{"domain":[0,0.18]},"axis":{"values":[0,0.05,0.1,0.15],"title":"Muscle Force (BW)"}}},
 "layer":[
  {"data":{"name":"subj"},"transform":[{"filter":"datum.m==='RA' && datum.g==='AB'"}],"mark":{"type":"line","stroke":"#ff0000","strokeWidth":1,"strokeOpacity":0.3,"interpolate":"monotone"},"encoding":{"detail":{"field":"s","type":"nominal"}}},
  {"data":{"name":"subj"},"transform":[{"filter":"datum.m==='RA' && datum.g==='TTA'"}],"mark":{"type":"line","stroke":"#0000ff","strokeWidth":1,"strokeOpacity":0.3,"interpolate":"monotone"},"encoding":{"detail":{"field":"s","type":"nominal"}}},
  {"data":{"name":"mean"},"transform":[{"filter":"datum.m==='RA'"}],"mark":{"type":"line","strokeWidth":6,"interpolate":"monotone"},"encoding":{"color":{"field":"g","type":"nominal","scale":{"domain":["AB","TTA"],"range":["#ff0000","#0000ff"]},"legend":null},"strokeDash":{"field":"g","type":"nominal","scale":{"domain":["AB","TTA"],"range":[[1,0],[14,8]]},"legend":null}}}
 ]},
{"width":276,"height":241,"title":{"text":"Obliques","offset":19},
 "encoding":{"x":{"field":"x","type":"quantitative","scale":{"domain":[0,100]},"axis":{"values":[0,50,100],"title":"% Sit to Stand"}},
  "y":{"field":"y","type":"quantitative","scale":{"domain":[0,1.4]},"axis":{"values":[0,0.5,1],"title":null}}},
 "layer":[
  {"data":{"name":"subj"},"transform":[{"filter":"datum.m==='OB' && datum.g==='AB'"}],"mark":{"type":"line","stroke":"#ff0000","strokeWidth":1,"strokeOpacity":0.3,"interpolate":"monotone"},"encoding":{"detail":{"field":"s","type":"nominal"}}},
  {"data":{"name":"subj"},"transform":[{"filter":"datum.m==='OB' && datum.g==='TTA'"}],"mark":{"type":"line","stroke":"#0000ff","strokeWidth":1,"strokeOpacity":0.3,"interpolate":"monotone"},"encoding":{"detail":{"field":"s","type":"nominal"}}},
  {"data":{"name":"mean"},"transform":[{"filter":"datum.m==='OB'"}],"mark":{"type":"line","strokeWidth":6,"interpolate":"monotone"},"encoding":{"color":{"field":"g","type":"nominal","scale":{"domain":["AB","TTA"],"range":["#ff0000","#0000ff"]},"legend":null},"strokeDash":{"field":"g","type":"nominal","scale":{"domain":["AB","TTA"],"range":[[1,0],[14,8]]},"legend":null}}}
 ]},
{"width":276,"height":241,"title":{"text":"Quadratus Lumborum","offset":5},
 "encoding":{"x":{"field":"x","type":"quantitative","scale":{"domain":[0,100]},"axis":{"values":[0,50,100],"title":null}},
  "y":{"field":"y","type":"quantitative","scale":{"domain":[0,1]},"axis":{"values":[0,0.5,1],"title":null}}},
 "layer":[
  {"data":{"name":"subj"},"transform":[{"filter":"datum.m==='QL' && datum.g==='AB'"}],"mark":{"type":"line","stroke":"#ff0000","strokeWidth":1,"strokeOpacity":0.3,"interpolate":"monotone"},"encoding":{"detail":{"field":"s","type":"nominal"}}},
  {"data":{"name":"subj"},"transform":[{"filter":"datum.m==='QL' && datum.g==='TTA'"}],"mark":{"type":"line","stroke":"#0000ff","strokeWidth":1,"strokeOpacity":0.3,"interpolate":"monotone"},"encoding":{"detail":{"field":"s","type":"nominal"}}},
  {"data":{"name":"mean"},"transform":[{"filter":"datum.m==='QL'"}],"mark":{"type":"line","strokeWidth":6,"interpolate":"monotone"},"encoding":{"color":{"field":"g","type":"nominal","scale":{"domain":["AB","TTA"],"range":["#ff0000","#0000ff"]},"legend":null},"strokeDash":{"field":"g","type":"nominal","scale":{"domain":["AB","TTA"],"range":[[1,0],[14,8]]},"legend":null}}}
 ]}
],
"config":{
 "font":"Liberation Sans",
 "background":"#ffffff",
 "view":{"stroke":null},
 "axis":{"labelFont":"Liberation Sans","labelFontSize":26,"labelColor":"#000000","titleFont":"Liberation Sans","titleFontSize":26,"titleFontWeight":"normal","titleColor":"#000000","domainColor":"#8c8c8c","domainWidth":1,"tickColor":"#8c8c8c","tickSize":-5,"grid":false,"labelFlush":false,"labelOverlap":false,"format":"~f"},
 "axisX":{"labelPadding":13,"titlePadding":0},
 "axisY":{"labelPadding":10,"titlePadding":12},
 "title":{"font":"Liberation Sans","fontSize":26,"fontWeight":"bold","color":"#000000","anchor":"middle","frame":"group","baseline":"alphabetic"}
}
}
